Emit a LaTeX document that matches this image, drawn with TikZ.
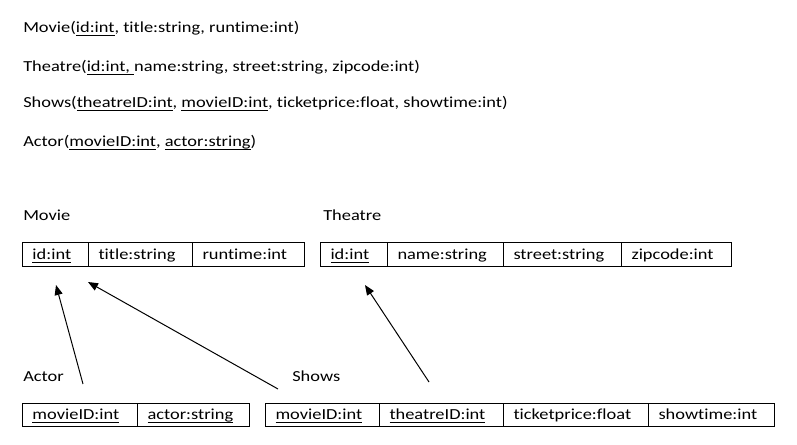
\documentclass[tikz,border=0pt]{standalone}
\usepackage{fontspec}
\setmainfont{Carlito}[FakeStretch=1.2, Ligatures={NoCommon,NoRequired,NoContextual}]
\usetikzlibrary{arrows.meta}
\newcommand\ulx[1]{\setbox0=\hbox{#1}\rlap{\rule[-2.6pt]{\wd0}{0.75pt}}\box0}
\tikzset{
  cell/.style={draw, line width=0.75pt, anchor=north west, inner xsep=7.5pt, inner ysep=0pt,
    minimum height=18pt, text height=8.5pt, text depth=1pt, align=left, text width=#1},
  cellb/.style={cell=#1, minimum height=17.25pt},
  txt/.style={anchor=base west, inner sep=0pt},
  fk/.style={line width=0.75pt, -{Triangle[length=7.5pt,width=6pt]}}
}
\begin{document}
\begin{tikzpicture}[x=0.75pt, y=-0.75pt, font=\fontsize{11.5}{13}\selectfont]
\useasboundingbox (0,0) rectangle (797,445);
% schema lines
\node[txt] (l1) at (23,33) {Movie(\ulx{id:int}, title:string, runtime:int)};
\node[txt] (l2) at (23,72) {Theatre(\ulx{id:int, }name:string, street:string, zipcode:int)};
\node[txt] (l3) at (23,108) {Shows(\ulx{theatreID:int}, \ulx{movieID:int}, ticketprice:float, showtime:int)};
\node[txt] (l4) at (23,147) {Actor(\ulx{movieID:int}, \ulx{actor:string})};
% table titles
\node[txt] (tm) at (23,221) {Movie};
\node[txt] (tt) at (323,221) {Theatre};
\node[txt] (ta) at (23,382) {Actor};
\node[txt] (ts) at (292,382) {Shows};
% Movie table
\node[cell=34.5pt] (m1) at (22,242) {\ulx{id:int}};
\node[cell=63pt] (m2) at (88,242) {\mbox{title:string}};
\node[cell=69pt] (m3) at (192,242) {\mbox{runtime:int}};
% Theatre table
\node[cell=35.25pt] (t1) at (320,242) {\ulx{id:int}};
\node[cell=72pt] (t2) at (387,242) {\mbox{name:string}};
\node[cell=73.5pt] (t3) at (503,242) {\mbox{street:string}};
\node[cell=67.5pt] (t4) at (621,242) {\mbox{zipcode:int}};
% Actor table
\node[cellb=71.25pt] (a1) at (22,403) {\ulx{movieID:int}};
\node[cellb=69pt] (a2) at (137,403) {\ulx{actor:string}};
% Shows table
\node[cellb=70.5pt] (s1) at (265,403) {\ulx{movieID:int}};
\node[cellb=78pt] (s2) at (379,403) {\ulx{theatreID:int}};
\node[cellb=93.75pt] (s3) at (503,403) {\mbox{ticketprice:float}};
\node[cellb=79.5pt] (s4) at (648,403) {\mbox{showtime:int}};
% arrow ends
\coordinate (p1s) at (83,384);
\coordinate (p1e) at (56,285);
\coordinate (p2s) at (278,389);
\coordinate (p2e) at (88,282);
\coordinate (p3s) at (429,382);
\coordinate (p3e) at (365,285);
\draw[fk] (p1s) -- (p1e);
\draw[fk] (p2s) -- (p2e);
\draw[fk] (p3s) -- (p3e);
\end{tikzpicture}
\end{document}
